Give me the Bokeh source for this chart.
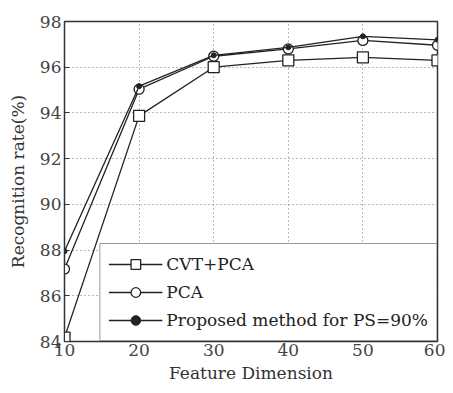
from bokeh.plotting import figure
from bokeh.models import Legend, LegendItem, Range1d, FixedTicker
from bokeh.embed import file_html
from bokeh.resources import INLINE

dims = [10, 20, 30, 40, 50, 60]
cvt_pca = [84.17, 93.87, 96.0, 96.3, 96.43, 96.3]
pca = [87.17, 95.04, 96.48, 96.8, 97.17, 96.96]
proposed = [87.95, 95.17, 96.52, 96.87, 97.35, 97.2]
x_ticks = [10, 20, 30, 40, 50, 60]
y_ticks = [84, 86, 88, 90, 92, 94, 96, 98]
names = ["CVT+PCA", "PCA", "Proposed method for PS=90%"]

FONT = "DejaVu Serif"

p = figure(width=445, height=385, output_backend="svg", toolbar_location=None,
           x_range=Range1d(10, 60), y_range=Range1d(84, 98),
           min_border_left=64, min_border_right=8, min_border_top=21, min_border_bottom=44)
p.background_fill_color = "white"
p.outline_line_color = "#333333"
p.outline_line_width = 1.5

for ax in (p.xaxis[0], p.yaxis[0]):
    ax.major_tick_in = 5
    ax.major_tick_out = 0
    ax.minor_tick_in = 0
    ax.minor_tick_out = 0
    ax.axis_line_color = "#333333"
    ax.major_tick_line_color = "#333333"
    ax.major_label_text_font = FONT
    ax.major_label_text_font_size = "17px"
    ax.major_label_text_color = "#444444"
    ax.axis_label_text_font = FONT
    ax.axis_label_text_font_size = "17px"
    ax.axis_label_text_font_style = "normal"
    ax.axis_label_text_color = "#333333"

p.xaxis.ticker = FixedTicker(ticks=x_ticks)
p.yaxis.ticker = FixedTicker(ticks=y_ticks)
p.xaxis.axis_label = "Feature Dimension"
p.yaxis.axis_label = "Recognition rate(%)"
p.xaxis.major_label_standoff = 2
p.yaxis.major_label_standoff = 3
p.xaxis.axis_label_standoff = 4
p.yaxis.axis_label_standoff = 9

for g in (p.xgrid[0], p.ygrid[0]):
    g.grid_line_color = "#777777"
    g.grid_line_dash = "1 3"
    g.grid_line_width = 1

lc = "#222222"
r1l = p.line(dims, cvt_pca, line_color=lc, line_width=1.3)
r1m = p.scatter(dims, cvt_pca, marker="square", size=11, fill_color="white",
                line_color=lc, line_width=1.3)
r2l = p.line(dims, pca, line_color=lc, line_width=1.3)
r2m = p.scatter(dims, pca, marker="circle", size=10, fill_color="white",
                line_color=lc, line_width=1.3)
r3l = p.line(dims, proposed, line_color=lc, line_width=1.3)
r3m = p.scatter(dims, proposed, marker="circle", size=5, fill_color=lc,
                line_color=lc)

legend = Legend(items=[
    LegendItem(label=names[0], renderers=[r1l, r1m]),
    LegendItem(label=names[1], renderers=[r2l, r2m]),
    LegendItem(label=names[2], renderers=[r3l, r3m]),
], location="bottom_right")
legend.label_text_font = FONT
legend.label_text_font_size = "17px"
legend.label_text_color = "#222222"
legend.border_line_color = "#333333"
legend.border_line_width = 1.5
legend.margin = 0
legend.padding = 8
legend.spacing = 4
legend.glyph_width = 54
legend.glyph_height = 24
legend.label_standoff = 4
legend.label_height = 24
legend.background_fill_alpha = 1
p.add_layout(legend)

open("out.html", "w").write(file_html(p, INLINE))
